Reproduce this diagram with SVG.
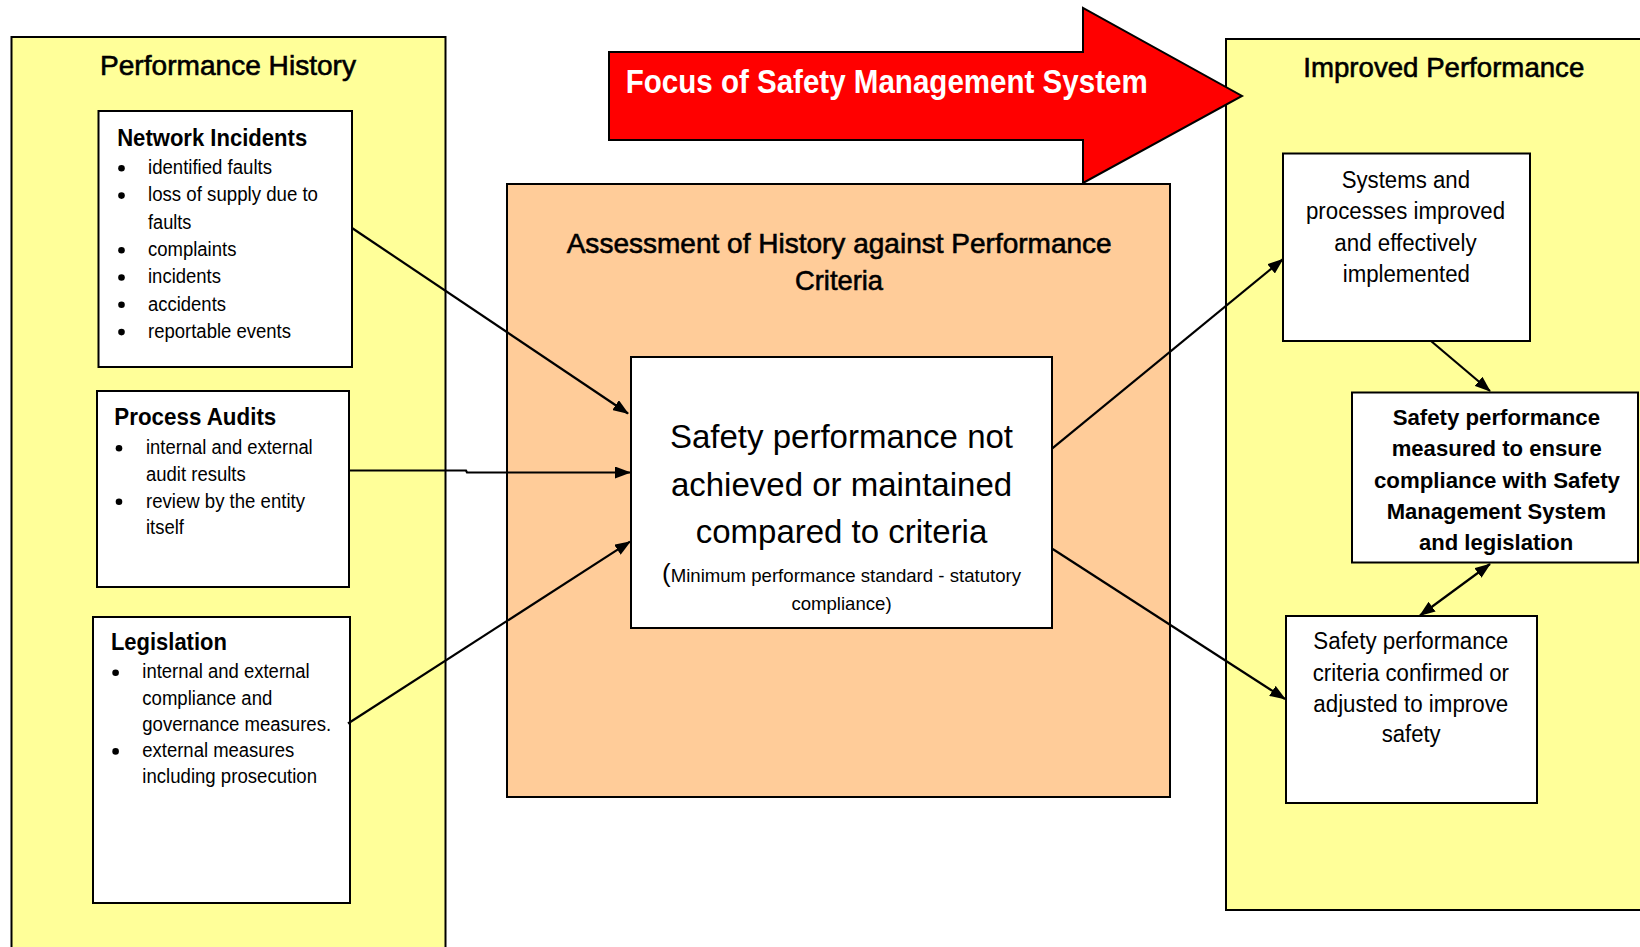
<svg xmlns="http://www.w3.org/2000/svg" width="1640" height="947" viewBox="0 0 1640 947">
<style>
text{font-family:"Liberation Sans",Arial,sans-serif;fill:#000}
.cont{stroke:#000;stroke-width:2}
.box{fill:#fff;stroke:#000;stroke-width:2}
.ttl{font-size:28px;stroke:#000;stroke-width:0.6}
.hd{font-size:24px;font-weight:bold}
.bl{font-size:19.5px}
.rt{font-size:23px}
.bt{font-size:22px;font-weight:bold}
.ct{font-size:33px}
.cs{font-size:18.6px}
.conn{stroke:#000;stroke-width:2.2;fill:none}
</style>
<defs>
<marker id="ah" viewBox="0 0 16 12" refX="15" refY="6" markerWidth="16" markerHeight="12" markerUnits="userSpaceOnUse" orient="auto-start-reverse">
<path d="M0,0 L16,6 L0,12 z" fill="#000"/>
</marker>
</defs>
<rect width="1640" height="947" fill="#fff"/>

<g id="performance-history">
<rect class="cont" x="11.5" y="37" width="434" height="930" fill="#FFFF99"/>
<text class="ttl" x="100" y="75" textLength="256" lengthAdjust="spacingAndGlyphs">Performance History</text>
</g>

<g id="improved-performance">
<rect class="cont" x="1226" y="39" width="430" height="871" fill="#FFFF99"/>
<text class="ttl" x="1303.3" y="76.7" textLength="281" lengthAdjust="spacingAndGlyphs">Improved Performance</text>
</g>

<g id="assessment">
<rect class="cont" x="507" y="184" width="663" height="613" fill="#FFCC99"/>
<text class="ttl" x="566.7" y="252.7" textLength="545" lengthAdjust="spacingAndGlyphs">Assessment of History against Performance</text>
<text class="ttl" x="795" y="290" textLength="88" lengthAdjust="spacingAndGlyphs">Criteria</text>
</g>

<g id="focus-arrow">
<polygon points="609,52 1083,52 1083,8 1242,96 1083,183 1083,140 609,140" fill="#FF0000" stroke="#000" stroke-width="2"/>
<text x="625.7" y="93.3" font-size="34" font-weight="bold" style="fill:#fff" textLength="522" lengthAdjust="spacingAndGlyphs">Focus of Safety Management System</text>
</g>

<g id="network-incidents">
<rect class="box" x="98.5" y="111" width="253.5" height="256"/>
<text class="hd" x="117.2" y="145.7" textLength="190" lengthAdjust="spacingAndGlyphs">Network Incidents</text>
<circle cx="121.5" cy="168.3" r="3.3"/>
<circle cx="121.5" cy="195.6" r="3.3"/>
<circle cx="121.5" cy="250.2" r="3.3"/>
<circle cx="121.5" cy="277.5" r="3.3"/>
<circle cx="121.5" cy="304.8" r="3.3"/>
<circle cx="121.5" cy="332.1" r="3.3"/>
<text class="bl" x="148" y="174" textLength="124" lengthAdjust="spacingAndGlyphs">identified faults</text>
<text class="bl" x="148" y="201.3" textLength="170" lengthAdjust="spacingAndGlyphs">loss of supply due to</text>
<text class="bl" x="148" y="228.6" textLength="43.4" lengthAdjust="spacingAndGlyphs">faults</text>
<text class="bl" x="148" y="255.9" textLength="88.4" lengthAdjust="spacingAndGlyphs">complaints</text>
<text class="bl" x="148" y="283.2" textLength="73" lengthAdjust="spacingAndGlyphs">incidents</text>
<text class="bl" x="148" y="310.5" textLength="78" lengthAdjust="spacingAndGlyphs">accidents</text>
<text class="bl" x="148" y="337.8" textLength="143" lengthAdjust="spacingAndGlyphs">reportable events</text>
</g>

<g id="process-audits">
<rect class="box" x="97" y="391" width="252" height="196"/>
<text class="hd" x="114.3" y="425" textLength="162" lengthAdjust="spacingAndGlyphs">Process Audits</text>
<circle cx="119" cy="448.3" r="3.3"/>
<circle cx="119" cy="501.8" r="3.3"/>
<text class="bl" x="146" y="454" textLength="166.7" lengthAdjust="spacingAndGlyphs">internal and external</text>
<text class="bl" x="146" y="480.7" textLength="99.7" lengthAdjust="spacingAndGlyphs">audit results</text>
<text class="bl" x="146" y="507.5" textLength="159" lengthAdjust="spacingAndGlyphs">review by the entity</text>
<text class="bl" x="146" y="534" textLength="38" lengthAdjust="spacingAndGlyphs">itself</text>
</g>

<g id="legislation">
<rect class="box" x="93" y="617" width="257" height="286"/>
<text class="hd" x="110.9" y="650" textLength="116" lengthAdjust="spacingAndGlyphs">Legislation</text>
<circle cx="115.6" cy="672.7" r="3.3"/>
<circle cx="115.6" cy="751.4" r="3.3"/>
<text class="bl" x="142.3" y="678.3" textLength="167.4" lengthAdjust="spacingAndGlyphs">internal and external</text>
<text class="bl" x="142.3" y="704.5" textLength="130" lengthAdjust="spacingAndGlyphs">compliance and</text>
<text class="bl" x="142.3" y="730.7" textLength="188.8" lengthAdjust="spacingAndGlyphs">governance measures.</text>
<text class="bl" x="142.3" y="757" textLength="152" lengthAdjust="spacingAndGlyphs">external measures</text>
<text class="bl" x="142.3" y="783.2" textLength="174.7" lengthAdjust="spacingAndGlyphs">including prosecution</text>
</g>

<g id="safety-not-achieved">
<rect class="box" x="631" y="357" width="421" height="271"/>
<text class="ct" x="841.5" y="448" text-anchor="middle">Safety performance not</text>
<text class="ct" x="841.5" y="496" text-anchor="middle">achieved or maintained</text>
<text class="ct" x="841.5" y="543" text-anchor="middle">compared to criteria</text>
<text class="cs" x="841.5" y="581.7" text-anchor="middle"><tspan font-size="26">(</tspan>Minimum performance standard - statutory</text>
<text class="cs" x="841.5" y="610" text-anchor="middle">compliance)</text>
</g>

<g id="systems-improved">
<rect class="box" x="1283" y="153.5" width="247" height="187.5"/>
<text class="rt" x="1341.7" y="188" textLength="128.3" lengthAdjust="spacingAndGlyphs">Systems and</text>
<text class="rt" x="1306" y="219.3" textLength="199" lengthAdjust="spacingAndGlyphs">processes improved</text>
<text class="rt" x="1334.3" y="250.6" textLength="142.3" lengthAdjust="spacingAndGlyphs">and effectively</text>
<text class="rt" x="1342.7" y="281.9" textLength="127.3" lengthAdjust="spacingAndGlyphs">implemented</text>
</g>

<g id="safety-measured">
<rect class="box" x="1352" y="392.5" width="286" height="170"/>
<text class="bt" x="1392.7" y="425" textLength="207.3" lengthAdjust="spacingAndGlyphs">Safety performance</text>
<text class="bt" x="1391.7" y="456.3" textLength="210" lengthAdjust="spacingAndGlyphs">measured to ensure</text>
<text class="bt" x="1374" y="487.7" textLength="246" lengthAdjust="spacingAndGlyphs">compliance with Safety</text>
<text class="bt" x="1386.7" y="519" textLength="219.3" lengthAdjust="spacingAndGlyphs">Management System</text>
<text class="bt" x="1419" y="550.3" textLength="154.3" lengthAdjust="spacingAndGlyphs">and legislation</text>
</g>

<g id="criteria-confirmed">
<rect class="box" x="1286" y="616" width="251" height="187"/>
<text class="rt" x="1313.3" y="649.3" textLength="195" lengthAdjust="spacingAndGlyphs">Safety performance</text>
<text class="rt" x="1312.7" y="680.5" textLength="196.3" lengthAdjust="spacingAndGlyphs">criteria confirmed or</text>
<text class="rt" x="1313.3" y="711.7" textLength="195" lengthAdjust="spacingAndGlyphs">adjusted to improve</text>
<text class="rt" x="1381.7" y="742" textLength="59" lengthAdjust="spacingAndGlyphs">safety</text>
</g>

<g id="connectors">
<line class="conn" x1="352" y1="228" x2="628" y2="413.5" marker-end="url(#ah)"/>
<polyline class="conn" points="349,470.5 466,470.5 467,472.5 630,472.5" marker-end="url(#ah)"/>
<line class="conn" x1="348" y1="723.5" x2="630" y2="541.7" marker-end="url(#ah)"/>
<line class="conn" x1="1052.3" y1="448.3" x2="1282.7" y2="259.3" marker-end="url(#ah)"/>
<line class="conn" x1="1052.7" y1="549" x2="1285" y2="699" marker-end="url(#ah)"/>
<line class="conn" x1="1431" y1="341" x2="1490" y2="391" marker-end="url(#ah)"/>
<line class="conn" x1="1490" y1="564" x2="1420" y2="615.5" marker-start="url(#ah)" marker-end="url(#ah)"/>
</g>
</svg>
